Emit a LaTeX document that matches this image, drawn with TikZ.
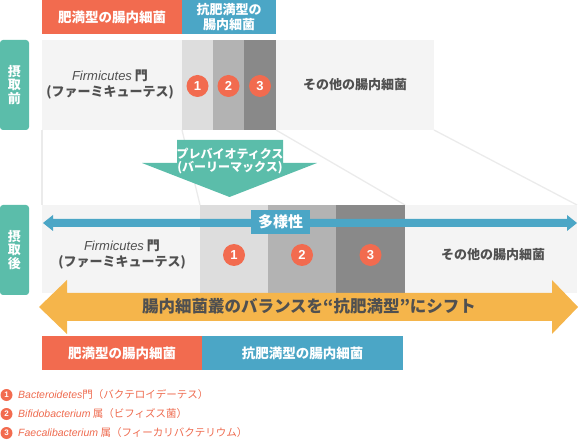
\documentclass[tikz,border=0pt]{standalone}
\usepackage{fontspec}
\setmainfont{Noto Sans CJK JP}
\newfontfamily\lat{Liberation Sans}
\definecolor{cred}{HTML}{F26B4F}
\definecolor{cblue}{HTML}{4BA6C6}
\definecolor{cteal}{HTML}{5BBDAA}
\definecolor{corange}{HTML}{F5B54B}
\definecolor{cband}{HTML}{F4F4F4}
\definecolor{cbarA}{HTML}{DDDDDD}
\definecolor{cbarB}{HTML}{B3B3B3}
\definecolor{cbarC}{HTML}{898989}
\definecolor{ctext}{HTML}{505050}
\definecolor{cfaint}{HTML}{EBEBEB}
\definecolor{clegend}{HTML}{EE6A4E}
\tikzset{
  box/.style={inner sep=0pt, outer sep=0pt, anchor=north west, draw=none},
  wlabel/.style={text=white, font=\bfseries\fontsize{13.5}{16}\selectfont, align=center, inner sep=0pt},
  numc/.style={circle, fill=cred, text=white, minimum size=22pt, inner sep=0pt, font=\lat\bfseries\fontsize{13}{13}\selectfont},
  numsmall/.style={circle, fill=cred, text=white, minimum size=12pt, inner sep=0pt, font=\lat\bfseries\fontsize{8}{8}\selectfont},
  gtext/.style={text=ctext, font=\bfseries\fontsize{13}{16}\selectfont, align=center, inner sep=0pt},
  sidetag/.style={box, fill=cteal, rounded corners=3pt, minimum width=29pt, minimum height=90pt},
  legtext/.style={anchor=west, text=clegend, font=\fontsize{10.5}{12}\selectfont, inner sep=0pt},
  faint/.style={draw=cfaint, line width=1.3pt}
}
\begin{document}
\begin{tikzpicture}[x=1pt,y=-1pt]
\useasboundingbox (0,0) rectangle (578,443);
% header top
\node[box, fill=cred, minimum width=140pt, minimum height=34pt] (hred) at (42,0) {};
\node[wlabel] (hredt) at (hred.center) {肥満型の腸内細菌};
\node[box, fill=cblue, minimum width=94pt, minimum height=34pt] (hblue) at (182,0) {};
\node[wlabel, font=\bfseries\fontsize{13}{15}\selectfont] (hbluet) at (hblue.center) {抗肥満型の\\腸内細菌};
% side tags
\node[sidetag] (tagA) at (0,40) {};
\node[wlabel, font=\bfseries\fontsize{13}{13.5}\selectfont] (tagAt) at (tagA.center) {摂\\取\\前};
\node[sidetag] (tagB) at (0,205) {};
\node[wlabel, font=\bfseries\fontsize{13}{13.5}\selectfont] (tagBt) at (tagB.center) {摂\\取\\後};
% top band
\node[box, fill=cband, minimum width=392pt, minimum height=90pt] (bandA) at (42,40) {};
\node[box, fill=cbarA, minimum width=31pt, minimum height=90pt] (a1) at (182,40) {};
\node[box, fill=cbarB, minimum width=31pt, minimum height=90pt] (a2) at (213,40) {};
\node[box, fill=cbarC, minimum width=32pt, minimum height=90pt] (a3) at (244,40) {};
\node[numc] (ca1) at (197.5,86) {1};
\node[numc] (ca2) at (228.5,86) {2};
\node[numc] (ca3) at (260,86) {3};
\node[gtext] (firmA) at (110,85) {{\lat\itshape\mdseries Firmicutes} 門\\(ファーミキューテス)};
\node[gtext] (othA) at (355,85) {その他の腸内細菌};
% faint connecting lines
\coordinate (fa0) at (42,130); \coordinate (fb0) at (42,205);
\coordinate (fa1) at (182,130); \coordinate (fb1) at (200,205);
\coordinate (fa2) at (276,130); \coordinate (fb2) at (405,205);
\coordinate (fa3) at (434,130); \coordinate (fb3) at (577,205);
\draw[faint] (fa0) -- (fb0);
\draw[faint] (fa1) -- (fb1);
\draw[faint] (fa2) -- (fb2);
\draw[faint] (fa3) -- (fb3);
% prebiotics arrow
\fill[cteal] (177,140) -- (283,140) -- (283,163) -- (317,163) -- (229.5,197) -- (142,163) -- (177,163) -- cycle;
\node[wlabel, font=\bfseries\fontsize{12}{13.5}\selectfont] (preb) at (230,161) {プレバイオティクス\\(バーリーマックス)};
% bottom band
\node[box, fill=cband, minimum width=535pt, minimum height=88pt] (bandB) at (42,205) {};
\node[box, fill=cbarA, minimum width=68pt, minimum height=88pt] (b1) at (200,205) {};
\node[box, fill=cbarB, minimum width=68pt, minimum height=88pt] (b2) at (268,205) {};
\node[box, fill=cbarC, minimum width=69pt, minimum height=88pt] (b3) at (336,205) {};
\node[numc] (cb1) at (234,255) {1};
\node[numc] (cb2) at (302,255) {2};
\node[numc] (cb3) at (370.5,255) {3};
\node[gtext] (firmB) at (122,255) {{\lat\itshape\mdseries Firmicutes} 門\\(ファーミキューテス)};
\node[gtext] (othB) at (493,255) {その他の腸内細菌};
% diversity arrow
\fill[cblue] (43,223) -- (53,215) -- (53,219) -- (567,219) -- (567,215) -- (577,223) -- (567,231) -- (567,227) -- (53,227) -- (53,231) -- cycle;
\node[box, fill=cblue, minimum width=59pt, minimum height=24pt] (div) at (251,210) {};
\node[wlabel, font=\bfseries\fontsize{15}{15}\selectfont] (divt) at (div.center) {多様性};
% orange arrow
\fill[corange] (39,307) -- (67,280) -- (67,293) -- (552,293) -- (552,280) -- (578,307) -- (552,334) -- (552,321) -- (67,321) -- (67,334) -- cycle;
\node[gtext, text=ctext, font=\bfseries\fontsize{16.5}{18}\selectfont] (shift) at (309,306) {腸内細菌叢のバランスを“抗肥満型”にシフト};
% bottom labels
\node[box, fill=cred, minimum width=160pt, minimum height=34pt] (lred) at (42,336) {};
\node[wlabel] (lredt) at (lred.center) {肥満型の腸内細菌};
\node[box, fill=cblue, minimum width=201pt, minimum height=34pt] (lblue) at (202,336) {};
\node[wlabel] (lbluet) at (lblue.center) {抗肥満型の腸内細菌};
% legend
\node[numsmall] (l1) at (6.5,395) {1};
\node[numsmall] (l2) at (6.5,414) {2};
\node[numsmall] (l3) at (6.5,433) {3};
\node[legtext] (l1t) at (18,395) {{\lat\itshape Bacteroidetes}門（バクテロイデーテス）};
\node[legtext] (l2t) at (18,414) {{\lat\itshape Bifidobacterium} 属（ビフィズス菌）};
\node[legtext] (l3t) at (18,433) {{\lat\itshape Faecalibacterium} 属（フィーカリバクテリウム）};
\end{tikzpicture}
\end{document}
